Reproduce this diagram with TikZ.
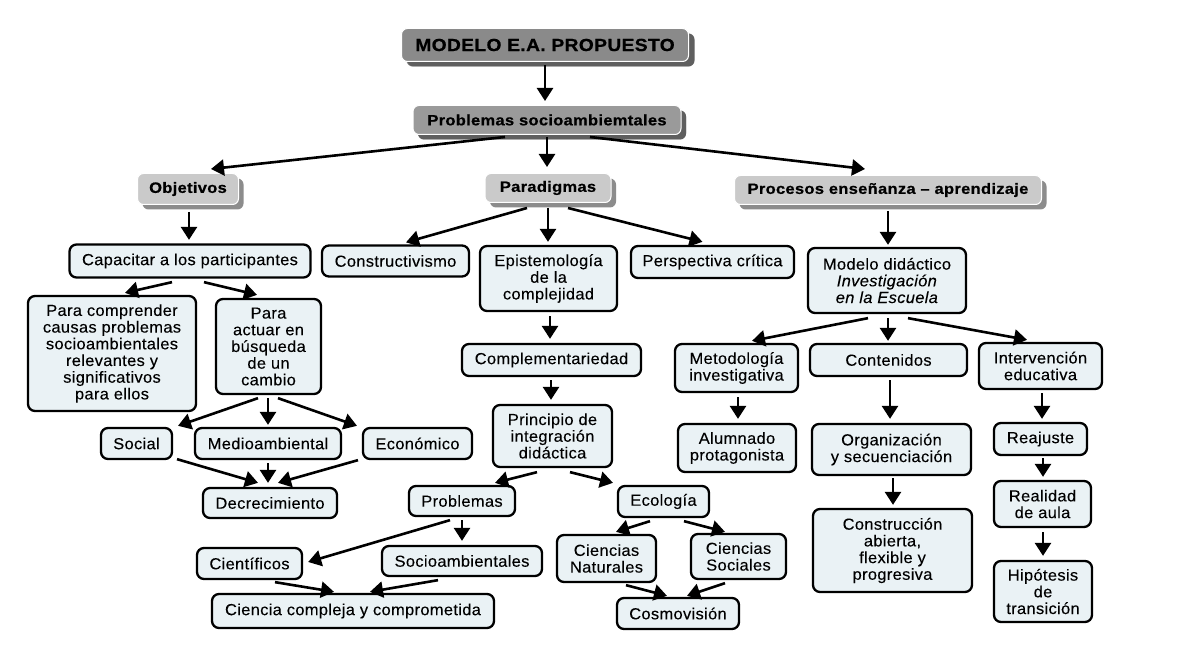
\documentclass[tikz,border=0pt]{standalone}
\usepackage{fontspec}
\setmainfont{Liberation Sans}[FakeStretch=1.03, LetterSpace=2, FakeBold=0.1]
\newfontfamily\hdrfont{Liberation Sans}[FakeStretch=1.1, LetterSpace=2, FakeBold=0.6]
\usetikzlibrary{arrows.meta,calc,shadows}
\definecolor{boxfill}{RGB}{234,242,245}
\definecolor{hdrlight}{RGB}{202,202,202}
\definecolor{hdrmid}{RGB}{154,154,154}
\definecolor{hdrdark}{RGB}{138,138,138}
\definecolor{shlight}{RGB}{140,140,140}
\definecolor{shdark}{RGB}{95,95,95}
\tikzset{
  box/.style={draw=black, line width=2.3pt, rounded corners=7pt, fill=boxfill,
    align=center, inner sep=0pt, font=\fontsize{16}{16.7}\selectfont},
  hdr/.style={draw=white, line width=1pt, rounded corners=6pt, fill=hdrlight,
    align=center, inner sep=0pt, font=\hdrfont\bfseries\fontsize{15}{16}\selectfont,
    drop shadow={shadow xshift=5pt, shadow yshift=-5pt, fill=shlight, opacity=1}},
  hdrm/.style={hdr, fill=hdrmid, font=\hdrfont\bfseries\fontsize{15}{16}\selectfont,
    drop shadow={shadow xshift=5pt, shadow yshift=-5pt, fill=shdark, opacity=1}},
  hdrd/.style={hdr, fill=hdrdark, font=\hdrfont\bfseries\fontsize{17.5}{18}\selectfont,
    drop shadow={shadow xshift=6pt, shadow yshift=-5pt, fill=shdark, opacity=1}},
  arr/.style={line width=2.6pt, -{Triangle[length=13pt,width=16pt]}},
  sz/.style 2 args={minimum width=#1pt, minimum height=#2pt}
}
\begin{document}
\begin{tikzpicture}[x=1pt,y=-1pt]
\useasboundingbox (0,0) rectangle (1179,652);
\fill[white] (0,0) rectangle (1179,652);

% headers
\node[hdrd, sz={287}{33}] (modelo) at (545,45) {MODELO E.A. PROPUESTO};
\node[hdrm, sz={268}{29}] (probs) at (547,120) {Problemas socioambiemtales};
\node[hdr, sz={101}{31}] (obj) at (188,189) {Objetivos};
\node[hdr, sz={126}{29}] (parad) at (548,188) {Paradigmas};
\node[hdr, sz={307}{29}] (proc) at (888,190) {Procesos enseñanza – aprendizaje};

% boxes
\node[box, sz={241}{33}] (capac) at (190,261) {Capacitar a los participantes};
\node[box, sz={147}{31}] (constr) at (395.5,261) {Constructivismo};
\node[box, sz={137}{65}] (epist) at (548.5,278.5) {Epistemología\\de la\\complejidad};
\node[box, sz={163}{32}] (persp) at (712.5,262) {Perspectiva crítica};
\node[box, sz={158}{65}] (mdid) at (887,280.5) {Modelo didáctico\\\textit{Investigación}\\\textit{en la Escuela}};

\node[box, sz={168}{115}] (comp) at (112,353.5) {Para comprender\\causas problemas\\socioambientales\\relevantes y\\significativos\\para ellos};
\node[box, sz={105}{95}] (actuar) at (268.5,346.5) {Para\\actuar en\\búsqueda\\de un\\cambio};
\node[box, sz={179}{32}] (complem) at (551.5,360) {Complementariedad};
\node[box, sz={123}{48}] (metod) at (736.5,368) {Metodología\\investigativa};
\node[box, sz={157}{32}] (conten) at (888.5,360) {Contenidos};
\node[box, sz={123}{46}] (interv) at (1040.5,366) {Intervención\\educativa};

\node[box, sz={71}{31}] (social) at (136.5,443.5) {Social};
\node[box, sz={146}{31}] (medio) at (268,443.5) {Medioambiental};
\node[box, sz={109}{31}] (econ) at (417.5,443.5) {Económico};
\node[box, sz={119}{62}] (princ) at (552.5,436) {Principio de\\integración\\didáctica};
\node[box, sz={118}{48}] (alumn) at (737,448) {Alumnado\\protagonista};
\node[box, sz={159}{51}] (organ) at (891.5,449.5) {Organización\\y secuenciación};
\node[box, sz={93}{32}] (reaj) at (1040.5,439) {Reajuste};

\node[box, sz={134}{30}] (decrec) at (270,503) {Decrecimiento};
\node[box, sz={106}{30}] (problemas) at (462,501) {Problemas};
\node[box, sz={91}{31}] (ecol) at (663.5,501.5) {Ecología};
\node[box, sz={97}{46}] (realid) at (1042.5,504) {Realidad\\de aula};
\node[box, sz={159}{83}] (constr2) at (892.5,550.5) {Construcción\\abierta,\\flexible y\\progresiva};

\node[box, sz={105}{31}] (cient) at (249.5,563.5) {Científicos};
\node[box, sz={160}{30}] (socioamb) at (462,561) {Socioambientales};
\node[box, sz={99}{47}] (cnat) at (606.5,558.5) {Ciencias\\Naturales};
\node[box, sz={95}{45}] (csoc) at (738.5,556.5) {Ciencias\\Sociales};
\node[box, sz={98}{61}] (hipot) at (1043,591.5) {Hipótesis\\de\\transición};

\node[box, sz={282}{34}] (ciencia) at (353,611) {Ciencia compleja y comprometida};
\node[box, sz={122}{31}] (cosmo) at (678,613.5) {Cosmovisión};

% arrows
\draw[arr] ($(modelo.south)+(0,3)$) -- ($(probs.north)+(-2,-4)$);
\draw[arr] ($(probs.south)+(-42,2)$) -- ($(obj.north)+(23,-4)$);
\draw[arr] ($(probs.south)+(0,2)$) -- ($(parad.north)+(-1,-6)$);
\draw[arr] ($(probs.south)+(43,2)$) -- ($(proc.north)+(-23,-6)$);

\draw[arr] ($(obj.south)+(1,7)$) -- ($(capac.north)+(-1,-3.5)$);
\draw[arr] ($(capac.south)+(-18,3.5)$) -- ($(comp.north)+(13,-2)$);
\draw[arr] ($(capac.south)+(14,3.5)$) -- ($(actuar.north)+(-11.5,-3)$);
\draw[arr] ($(actuar.south)+(-10.5,3)$) -- ($(social.north)+(41.5,-1)$);
\draw[arr] ($(actuar.south)+(-0.5,3)$) -- ($(medio.north)+(0,-2)$);
\draw[arr] ($(actuar.south)+(9.5,3)$) -- ($(econ.north)+(-60.5,-1)$);
\draw[arr] ($(social.south)+(40.5,-1)$) -- ($(decrec.north)+(-12,-4)$);
\draw[arr] ($(medio.south)+(0,3)$) -- ($(decrec.north)+(-2,-4)$);
\draw[arr] ($(econ.south)+(-59.5,0)$) -- ($(decrec.north)+(8,-4)$);

\draw[arr] ($(parad.south)+(-21,5)$) -- ($(constr.north)+(10.5,-2)$);
\draw[arr] ($(parad.south)+(0,5)$) -- ($(epist.north)+(-0.5,-3)$);
\draw[arr] ($(parad.south)+(20,5)$) -- ($(persp.north)+(-10,-3)$);
\draw[arr] ($(epist.south)+(1.5,4)$) -- ($(complem.north)+(-1.5,-4)$);
\draw[arr] ($(complem.south)+(-0.5,3)$) -- ($(princ.north)+(-1.5,-4)$);
\draw[arr] ($(princ.south)+(-15.5,4)$) -- ($(problemas.north)+(33,-2)$);
\draw[arr] ($(princ.south)+(17.5,4)$) -- ($(ecol.north)+(-50.5,-2)$);
\draw[arr] ($(problemas.south)+(-12,3)$) -- ($(cient.east)+(5,-1.5)$);
\draw[arr] ($(problemas.south)+(0,3)$) -- ($(socioamb.north)+(0,-4)$);
\draw[arr] ($(cient.south)+(25.5,2)$) -- ($(ciencia.north)+(-19,-1)$);
\draw[arr] ($(socioamb.south)+(-24,3)$) -- ($(ciencia.north)+(17,-1)$);
\draw[arr] ($(ecol.south)+(-13.5,3)$) -- ($(cnat.north)+(9.5,-2)$);
\draw[arr] ($(ecol.south)+(20.5,3)$) -- ($(csoc.north)+(-13.5,-1)$);
\draw[arr] ($(cnat.south)+(19.5,2)$) -- ($(cosmo.north)+(-11,-1)$);
\draw[arr] ($(csoc.south)+(-13.5,3)$) -- ($(cosmo.north)+(9,-1)$);

\draw[arr] ($(proc.south)+(0,6)$) -- ($(mdid.north)+(1,-2)$);
\draw[arr] ($(mdid.south)+(-19,4)$) -- ($(metod.north)+(15.5,-2)$);
\draw[arr] ($(mdid.south)+(1,4)$) -- ($(conten.north)+(-0.5,-2)$);
\draw[arr] ($(mdid.south)+(21,4)$) -- ($(interv.north)+(-13.5,-2)$);
\draw[arr] ($(metod.south)+(1.5,4)$) -- ($(alumn.north)+(1,-4)$);
\draw[arr] ($(conten.south)+(1.5,3)$) -- ($(organ.north)+(-1.5,-4)$);
\draw[arr] ($(interv.south)+(1.5,3)$) -- ($(reaj.north)+(1.5,-3)$);
\draw[arr] ($(organ.south)+(1.5,2)$) -- ($(constr2.north)+(0.5,-3)$);
\draw[arr] ($(reaj.south)+(2.5,2)$) -- ($(realid.north)+(0.5,-3)$);
\draw[arr] ($(realid.south)+(0.5,4)$) -- ($(hipot.north)+(0,-4)$);
\end{tikzpicture}
\end{document}
